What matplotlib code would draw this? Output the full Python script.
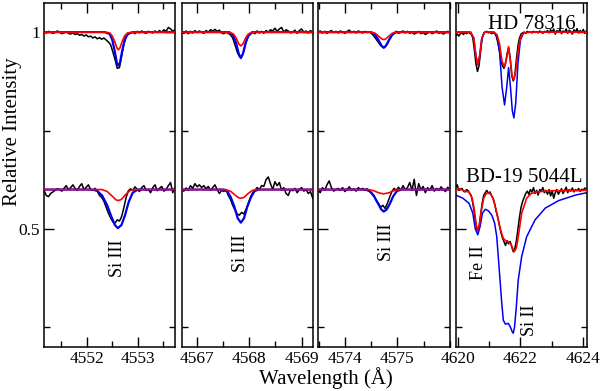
import numpy as np
import matplotlib
matplotlib.use("Agg")
import matplotlib.pyplot as plt
from matplotlib.ticker import MultipleLocator, FixedLocator

plt.rcParams['font.family'] = ['Liberation Serif', 'DejaVu Serif']

# ---------------- data ----------------
# Panel 1 : Si III 4552
p1_xlim = (4551.16, 4553.73)
p1_obs_w = np.linspace(4551.16, 4553.73, 60)
p1_top_obs = [1.0, 0.998, 1.002, 1.0, 0.997, 0.999, 1.003, 1.0, 0.996, 0.998,
              1.001, 0.997, 0.995, 0.998, 0.994, 0.996, 0.992, 0.994, 0.99, 0.993,
              0.988, 0.99, 0.985, 0.988, 0.983, 0.986, 0.982, 0.985, 0.98, 0.975,
              0.968, 0.95, 0.93, 0.908, 0.91, 0.94, 0.97, 0.988, 0.995, 0.998,
              1.0, 0.996, 1.002, 0.998, 1.003, 0.999, 0.997, 1.002, 1.0, 0.998,
              1.003, 0.999, 1.004, 1.0, 1.006, 1.002, 1.012, 1.008, 1.003, 1.005]
p1_bot_obs = [0.598, 0.585, 0.582, 0.59, 0.594, 0.598, 0.602, 0.6, 0.596, 0.603,
              0.61, 0.6, 0.605, 0.612, 0.603, 0.598, 0.608, 0.615, 0.6, 0.606,
              0.612, 0.6, 0.598, 0.603, 0.596, 0.585, 0.58, 0.57, 0.555, 0.54,
              0.528, 0.518, 0.515, 0.523, 0.52, 0.532, 0.555, 0.58, 0.597, 0.602,
              0.598, 0.607, 0.6, 0.595, 0.605, 0.61, 0.598, 0.6, 0.592, 0.605,
              0.612, 0.597, 0.603, 0.608, 0.596, 0.6, 0.61, 0.618, 0.592, 0.605]
p1_top_blue_w = [4551.16, 4552.35, 4552.45, 4552.50, 4552.55, 4552.59, 4552.62,
                 4552.65, 4552.69, 4552.74, 4552.80, 4552.90, 4553.73]
p1_top_blue = [1.0, 1.0, 0.995, 0.98, 0.95, 0.922, 0.915, 0.922, 0.95, 0.98, 0.995, 1.0, 1.0]
p1_top_red = [1.0, 1.0, 0.998, 0.99, 0.975, 0.96, 0.955, 0.96, 0.975, 0.99, 0.998, 1.0, 1.0]
p1_bot_blue_w = [4551.16, 4552.10, 4552.20, 4552.30, 4552.40, 4552.48, 4552.55, 4552.61,
                 4552.68, 4552.75, 4552.82, 4552.90, 4553.00, 4553.73]
p1_bot_blue = [0.6, 0.6, 0.597, 0.585, 0.56, 0.532, 0.51, 0.502, 0.51, 0.535, 0.568, 0.592, 0.6, 0.6]
p1_bot_red_w = [4551.16, 4552.30, 4552.40, 4552.50, 4552.57, 4552.62, 4552.68, 4552.76,
                4552.85, 4552.95, 4553.73]
p1_bot_red = [0.6, 0.6, 0.595, 0.583, 0.574, 0.572, 0.575, 0.587, 0.598, 0.6, 0.6]

# Panel 2 : Si III 4567
p2_xlim = (4566.71, 4569.21)
p2_obs_w = np.linspace(4566.71, 4569.21, 60)
p2_top_obs = [1.0, 0.997, 1.003, 0.996, 1.002, 0.998, 1.004, 0.999, 1.003, 1.0,
              0.997, 1.004, 1.0, 1.006, 1.003, 1.007, 1.002, 1.005, 0.998, 0.996,
              1.0, 0.997, 0.993, 0.985, 0.968, 0.95, 0.938, 0.937, 0.952, 0.975,
              0.99, 0.998, 1.0, 0.996, 1.003, 0.998, 1.002, 0.997, 1.004, 1.0,
              1.006, 1.003, 1.01, 1.002, 1.008, 1.012, 1.0, 1.006, 1.003, 0.998,
              1.0, 1.005, 0.997, 1.004, 1.008, 1.0, 1.003, 0.998, 1.004, 1.0]
p2_bot_obs = [0.6, 0.596, 0.604, 0.598, 0.61, 0.603, 0.615, 0.607, 0.612, 0.605,
              0.61, 0.602, 0.608, 0.598, 0.605, 0.612, 0.6, 0.59, 0.598, 0.595,
              0.6, 0.585, 0.575, 0.56, 0.548, 0.538, 0.535, 0.542, 0.538, 0.55,
              0.565, 0.58, 0.592, 0.598, 0.605, 0.6, 0.61, 0.608, 0.625, 0.632,
              0.615, 0.6, 0.62, 0.61, 0.618, 0.598, 0.605, 0.59, 0.585, 0.6,
              0.597, 0.603, 0.592, 0.6, 0.605, 0.596, 0.6, 0.59, 0.595, 0.578]
p2_top_model_w = [4566.71, 4567.62, 4567.70, 4567.75, 4567.80, 4567.84, 4567.88,
                  4567.93, 4567.98, 4568.06, 4569.21]
p2_top_blue = [1.0, 1.0, 0.99, 0.972, 0.945, 0.934, 0.945, 0.972, 0.99, 1.0, 1.0]
p2_top_red = [1.0, 1.0, 0.995, 0.985, 0.97, 0.965, 0.97, 0.985, 0.995, 1.0, 1.0]
p2_bot_blue_w = [4566.71, 4567.50, 4567.58, 4567.65, 4567.72, 4567.78, 4567.84, 4567.90,
                 4567.96, 4568.03, 4568.10, 4568.18, 4569.21]
p2_bot_blue = [0.6, 0.6, 0.596, 0.58, 0.555, 0.527, 0.516, 0.527, 0.555, 0.58, 0.596, 0.6, 0.6]
p2_bot_red_w = [4566.71, 4567.55, 4567.65, 4567.73, 4567.80, 4567.84, 4567.90, 4567.98,
                4568.06, 4568.15, 4569.21]
p2_bot_red = [0.6, 0.6, 0.595, 0.586, 0.579, 0.578, 0.58, 0.59, 0.598, 0.6, 0.6]

# Panel 3 : Si III 4574
p3_xlim = (4573.49, 4576.0)
p3_obs_w = np.linspace(4573.49, 4576.0, 60)
p3_top_obs = [1.0, 1.003, 0.998, 1.002, 0.997, 1.001, 1.004, 0.999, 1.002, 0.998,
              1.003, 1.0, 0.997, 1.002, 1.005, 0.999, 1.002, 0.998, 1.003, 1.0,
              0.998, 1.002, 0.999, 1.001, 0.996, 0.99, 0.982, 0.974, 0.966, 0.962,
              0.963, 0.97, 0.982, 0.992, 0.998, 1.002, 0.997, 1.0, 1.003, 0.998,
              1.002, 0.997, 1.0, 0.995, 0.998, 1.002, 0.996, 0.999, 0.994, 0.998,
              1.001, 0.996, 0.999, 1.003, 0.997, 1.0, 0.995, 0.999, 1.002, 0.998]
p3_bot_obs = [0.6, 0.592, 0.605, 0.598, 0.612, 0.622, 0.605, 0.596, 0.6, 0.603,
              0.598, 0.605, 0.595, 0.6, 0.607, 0.598, 0.602, 0.596, 0.605, 0.6,
              0.603, 0.598, 0.602, 0.595, 0.592, 0.585, 0.572, 0.565, 0.555, 0.56,
              0.552, 0.565, 0.58, 0.595, 0.603, 0.598, 0.606, 0.598, 0.61, 0.6,
              0.605, 0.618, 0.598, 0.626, 0.585, 0.615, 0.6, 0.608, 0.592, 0.605,
              0.598, 0.61, 0.596, 0.603, 0.598, 0.607, 0.6, 0.595, 0.606, 0.6]
p3_top_model_w = [4573.49, 4574.50, 4574.58, 4574.64, 4574.70, 4574.74, 4574.78,
                  4574.84, 4574.90, 4574.98, 4576.0]
p3_top_blue = [1.0, 1.0, 0.993, 0.98, 0.965, 0.96, 0.965, 0.98, 0.993, 1.0, 1.0]
p3_top_red = [1.0, 1.0, 0.997, 0.99, 0.983, 0.981, 0.983, 0.99, 0.997, 1.0, 1.0]
p3_bot_blue_w = [4573.49, 4574.40, 4574.48, 4574.56, 4574.63, 4574.69, 4574.74, 4574.80,
                 4574.86, 4574.92, 4574.99, 4575.07, 4576.0]
p3_bot_blue = [0.6, 0.6, 0.595, 0.582, 0.565, 0.55, 0.544, 0.55, 0.565, 0.583, 0.596, 0.6, 0.6]
p3_bot_red_w = [4573.49, 4574.45, 4574.55, 4574.64, 4574.74, 4574.84, 4574.93, 4575.03, 4576.0]
p3_bot_red = [0.6, 0.6, 0.597, 0.592, 0.589, 0.592, 0.597, 0.6, 0.6]

# Panel 4 : Fe II 4620 + Si II 4621
p4_xlim = (4619.92, 4624.13)
p4_obs_w = np.linspace(4619.92, 4624.12, 85)
p4_top_obs = [0.99, 0.995, 0.99, 0.996, 0.998, 0.994, 0.999, 0.996, 1.0, 0.997,
              0.995, 0.985, 0.955, 0.92, 0.90, 0.915, 0.95, 0.985, 0.997, 1.0,
              1.002, 0.998, 1.0, 0.996, 0.998, 0.997, 0.99, 0.975, 0.955, 0.93,
              0.915, 0.908, 0.92, 0.945, 0.96, 0.935, 0.89, 0.876, 0.89, 0.93,
              0.965, 0.985, 0.995, 0.998, 1.0, 0.997, 1.002, 0.999, 1.0, 0.998,
              1.002, 0.999, 1.001, 0.998, 1.003, 1.0, 0.997, 1.002, 1.0, 1.004,
              0.998, 1.006, 1.0, 1.008, 0.995, 1.004, 1.0, 1.007, 0.996, 1.003,
              1.0, 1.008, 0.997, 1.005, 1.001, 0.995, 1.006, 1.0, 1.009, 0.998,
              1.004, 0.999, 1.007, 0.997, 1.003]
p4_bot_obs = [0.605, 0.612, 0.598, 0.6, 0.603, 0.596, 0.594, 0.6, 0.597, 0.59,
              0.585, 0.565, 0.54, 0.51, 0.495, 0.505, 0.535, 0.565, 0.585, 0.592,
              0.598, 0.59, 0.594, 0.585, 0.578, 0.565, 0.545, 0.53, 0.51, 0.492,
              0.478, 0.468, 0.458, 0.47, 0.462, 0.468, 0.455, 0.442, 0.45, 0.47,
              0.5, 0.53, 0.555, 0.57, 0.58, 0.59, 0.596, 0.588, 0.6, 0.594,
              0.605, 0.59, 0.598, 0.586, 0.6, 0.596, 0.605, 0.592, 0.598, 0.588,
              0.6, 0.584, 0.596, 0.578, 0.592, 0.6, 0.588, 0.595, 0.602, 0.59,
              0.598, 0.606, 0.592, 0.6, 0.596, 0.604, 0.594, 0.6, 0.597, 0.603,
              0.595, 0.601, 0.598, 0.604, 0.6]
p4_top_model_w = [4619.92, 4620.40, 4620.50, 4620.57, 4620.63, 4620.69, 4620.76, 4620.85,
                  4621.15, 4621.25, 4621.33, 4621.41, 4621.49, 4621.56, 4621.62, 4621.68,
                  4621.74, 4621.79, 4621.85, 4621.92, 4622.0, 4622.1, 4622.3, 4624.13]
p4_top_blue = [1.0, 1.0, 0.985, 0.94, 0.917, 0.94, 0.985, 1.0,
               1.0, 0.99, 0.95, 0.86, 0.815, 0.86, 0.91, 0.86,
               0.8, 0.782, 0.82, 0.92, 0.98, 0.998, 1.0, 1.0]
p4_top_red = [1.0, 1.0, 0.985, 0.94, 0.917, 0.94, 0.985, 1.0,
              1.0, 0.993, 0.97, 0.925, 0.913, 0.935, 0.963, 0.925,
              0.885, 0.879, 0.9, 0.95, 0.985, 0.998, 1.0, 1.0]
p4_bot_blue_w = [4619.92, 4620.15, 4620.35, 4620.47, 4620.55, 4620.63, 4620.70, 4620.78,
                 4620.87, 4620.97, 4621.08, 4621.17, 4621.24, 4621.32, 4621.40, 4621.45,
                 4621.52, 4621.61, 4621.67, 4621.73, 4621.77, 4621.81, 4621.86, 4621.93,
                 4622.04, 4622.2, 4622.47, 4622.8, 4623.23, 4623.77, 4624.13]
p4_bot_blue = [0.586, 0.578, 0.565, 0.54, 0.5, 0.485, 0.505, 0.54,
               0.55, 0.546, 0.535, 0.515, 0.48, 0.396, 0.312, 0.268,
               0.258, 0.26, 0.252, 0.24, 0.235, 0.25, 0.294, 0.37,
               0.43, 0.48, 0.523, 0.553, 0.572, 0.586, 0.592]
p4_bot_red_w = [4619.92, 4620.05, 4620.2, 4620.35, 4620.45, 4620.52, 4620.58, 4620.63,
                4620.68, 4620.74, 4620.82, 4620.9, 4620.97, 4621.05, 4621.13, 4621.22,
                4621.29, 4621.37, 4621.45, 4621.53, 4621.61, 4621.7, 4621.8, 4621.87,
                4621.93, 4622.04, 4622.2, 4622.35, 4622.5, 4623.0, 4624.13]
p4_bot_red = [0.598, 0.602, 0.596, 0.594, 0.578, 0.548, 0.51, 0.497,
              0.51, 0.545, 0.578, 0.59, 0.592, 0.588, 0.575, 0.548,
              0.523, 0.495, 0.476, 0.47, 0.468, 0.46, 0.442, 0.452,
              0.48, 0.54, 0.578, 0.59, 0.594, 0.597, 0.598]

p1_xticks = [4552, 4553]
p2_xticks = [4567, 4568, 4569]
p3_xticks = [4574, 4575]
p4_xticks = [4620, 4622, 4624]

star_names = ["HD 78316", "BD-19 5044L"]
line_labels = [("Si III", 4552.61, 0.426), ("Si III", 4567.84, 0.439),
               ("Si III", 4574.79, 0.467), ("Fe II", 4620.64, 0.414),
               ("Si II", 4622.28, 0.269)]

# ---------------- figure ----------------
W, H = 600, 391
fig = plt.figure(figsize=(6.0, 3.91), dpi=100)

panel_px = [(44, 175), (181.6, 312.7), (318, 450), (455.7, 586.7)]
top_px, bot_px = 3, 347

panels = [
    dict(xlim=p1_xlim, obs_w=p1_obs_w, top_obs=p1_top_obs, bot_obs=p1_bot_obs,
         top_bw=p1_top_blue_w, top_b=p1_top_blue, top_rw=p1_top_blue_w, top_r=p1_top_red,
         bot_bw=p1_bot_blue_w, bot_b=p1_bot_blue, bot_rw=p1_bot_red_w, bot_r=p1_bot_red,
         ticks=p1_xticks, minor=0.5),
    dict(xlim=p2_xlim, obs_w=p2_obs_w, top_obs=p2_top_obs, bot_obs=p2_bot_obs,
         top_bw=p2_top_model_w, top_b=p2_top_blue, top_rw=p2_top_model_w, top_r=p2_top_red,
         bot_bw=p2_bot_blue_w, bot_b=p2_bot_blue, bot_rw=p2_bot_red_w, bot_r=p2_bot_red,
         ticks=p2_xticks, minor=0.5),
    dict(xlim=p3_xlim, obs_w=p3_obs_w, top_obs=p3_top_obs, bot_obs=p3_bot_obs,
         top_bw=p3_top_model_w, top_b=p3_top_blue, top_rw=p3_top_model_w, top_r=p3_top_red,
         bot_bw=p3_bot_blue_w, bot_b=p3_bot_blue, bot_rw=p3_bot_red_w, bot_r=p3_bot_red,
         ticks=p3_xticks, minor=0.5),
    dict(xlim=p4_xlim, obs_w=p4_obs_w, top_obs=p4_top_obs, bot_obs=p4_bot_obs,
         top_bw=p4_top_model_w, top_b=p4_top_blue, top_rw=p4_top_model_w, top_r=p4_top_red,
         bot_bw=p4_bot_blue_w, bot_b=p4_bot_blue, bot_rw=p4_bot_red_w, bot_r=p4_bot_red,
         ticks=p4_xticks, minor=1.0),
]

axes = []
for i, (p, (x0, x1)) in enumerate(zip(panels, panel_px)):
    ax = fig.add_axes([x0 / W, 1 - bot_px / H, (x1 - x0) / W, (bot_px - top_px) / H])
    axes.append(ax)
    ax.plot(p['obs_w'], p['top_obs'], color='black', lw=1.1, zorder=1)
    ax.plot(p['obs_w'], p['bot_obs'], color='black', lw=1.1, zorder=1)
    bw = 1.6 if i < 3 else 1.1
    ax.plot(p['top_bw'], p['top_b'], color='#0000ee', lw=bw, zorder=2)
    ax.plot(p['bot_bw'], p['bot_b'], color='#0000ee', lw=bw, zorder=2)
    ax.plot(p['top_rw'], p['top_r'], color='#ff0000', lw=1.2, zorder=3)
    ax.plot(p['bot_rw'], p['bot_r'], color='#ff0000', lw=1.2, zorder=3)
    ax.set_xlim(*p['xlim'])
    ax.set_ylim(0.2, 1.074)
    ax.xaxis.set_major_locator(FixedLocator(p['ticks']))
    ax.xaxis.set_minor_locator(MultipleLocator(p['minor']))
    ax.yaxis.set_major_locator(FixedLocator([0.5, 1.0]))
    ax.yaxis.set_minor_locator(FixedLocator([0.25, 0.75]))
    ax.tick_params(which='both', direction='in', top=True, right=True,
                   width=1.0, labelsize=12.5, pad=3)
    ax.tick_params(which='major', length=7)
    ax.tick_params(which='minor', length=4)
    for s in ax.spines.values():
        s.set_linewidth(1.1)
    if i == 0:
        ax.set_yticklabels(['0.5', '1'])
    else:
        ax.set_yticklabels([])
    ax.set_xticklabels([str(t) for t in p['ticks']])

# line labels
label_axes = [0, 1, 2, 3, 3]
for (txt, lx, ly), ai in zip(line_labels, label_axes):
    axes[ai].text(lx, ly, txt, rotation=90, ha='center', va='center', fontsize=13, zorder=5)

axes[3].text(4623.77, 1.0076, star_names[0], ha='right', va='baseline', fontsize=15, zorder=5)
axes[3].text(4623.98, 0.619, star_names[1], ha='right', va='baseline', fontsize=15, zorder=5)

fig.text(13 / W, 1 - 132 / H, "Relative Intensity", rotation=90, ha='center', va='center', fontsize=15)
fig.text(326 / W, 1 - 384 / H, "Wavelength (Å)", ha='center', va='baseline', fontsize=15)

fig.savefig("out.png", dpi=100)
